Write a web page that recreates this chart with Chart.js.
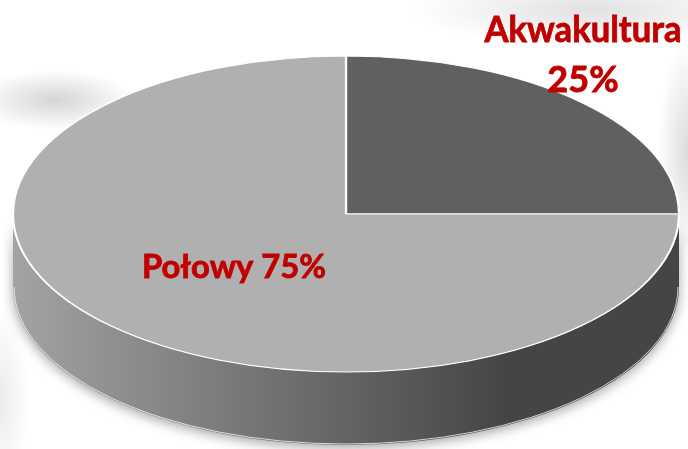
<!DOCTYPE html>
<html lang="pl">
<head>
<meta charset="utf-8">
<script src="https://cdn.jsdelivr.net/npm/chart.js@4.4.1/dist/chart.umd.min.js"></script>
<style>
    html, body { margin: 0; padding: 0; }
    body {
        width: 688px;
        height: 449px;
        overflow: hidden;
        background:
            radial-gradient(ellipse 80px 30px at 55px 100px, rgba(185,185,185,0.6), rgba(255,255,255,0)),
            radial-gradient(ellipse 180px 35px at 590px 10px, rgba(200,200,200,0.55), rgba(255,255,255,0)),
            radial-gradient(ellipse 30px 110px at 688px 150px, rgba(190,190,190,0.55), rgba(255,255,255,0)),
            radial-gradient(ellipse 30px 90px at 0px 400px, rgba(215,215,215,0.5), rgba(255,255,255,0)),
            #fff;
    }
    #wrap { position: relative; width: 688px; height: 449px; }
</style>
</head>
<body>
<div id="wrap"><canvas id="pieChart" width="688" height="449"></canvas></div>
<script>
const categories = ['Akwakultura', 'Połowy'];
const shares = [25, 75];
const splitLabel = [true, false];

const topColors = ['#606060', '#B0B0B0'];
const wallColors = [['#4a4a4a', '#2e2e2e'], ['#a3a3a3', '#454545']];

// where the flat pie gets stretched to, and how thick the "3D" wall is
const PIE = { cx: 346, cy: 214, rx: 333, ry: 158, depth: 73 };
const labelSpots = [
    { x: 583, y: 42, size: 36, lh: 50, maxW: 197 },
    { x: 234, y: 278, size: 33, lh: 0, maxW: 184 }
];

const TAU = Math.PI * 2;

const pie3d = {
    id: 'pie3d',
    beforeDatasetsDraw(chart) {
        const ctx = chart.ctx;
        const arcs = chart.getDatasetMeta(0).data;

        // front wall: only the part of each slice between 0 and PI faces us
        arcs.forEach((arc, i) => {
            let a0 = arc.startAngle, a1 = arc.endAngle;
            while (a0 < 0) { a0 += TAU; a1 += TAU; }
            [0, TAU].forEach(off => {
                const s = Math.max(a0, off), e = Math.min(a1, off + Math.PI);
                if (e <= s) return;
                const grad = ctx.createLinearGradient(PIE.cx - PIE.rx, 0, PIE.cx + PIE.rx, 0);
                grad.addColorStop(0, wallColors[i][0]);
                grad.addColorStop(0.74, wallColors[i][1]);
                grad.addColorStop(1, wallColors[i][1]);

                ctx.save();
                ctx.beginPath();
                ctx.ellipse(PIE.cx, PIE.cy + PIE.depth, PIE.rx, PIE.ry, 0, s, e);
                ctx.ellipse(PIE.cx, PIE.cy, PIE.rx, PIE.ry, 0, e, s, true);
                ctx.closePath();
                ctx.shadowColor = 'rgba(0,0,0,0.35)';
                ctx.shadowBlur = 12;
                ctx.shadowOffsetY = 3;
                ctx.fillStyle = grad;
                ctx.fill();
                ctx.restore();

                ctx.save();
                ctx.beginPath();
                ctx.ellipse(PIE.cx, PIE.cy + PIE.depth, PIE.rx - 1, PIE.ry - 1, 0, s, e);
                ctx.strokeStyle = 'rgba(255,255,255,0.75)';
                ctx.lineWidth = 1;
                ctx.stroke();
                ctx.restore();
            });
        });

        // squash the round pie into the top face ellipse
        const k = 1 / arcs[0].outerRadius;
        ctx.save();
        ctx.translate(PIE.cx, PIE.cy);
        ctx.scale(PIE.rx * k, PIE.ry * k);
        ctx.translate(-arcs[0].x, -arcs[0].y);
    },
    afterDatasetsDraw(chart) {
        chart.ctx.restore();
    },
    afterDraw(chart) {
        const ctx = chart.ctx;
        ctx.save();
        ctx.fillStyle = '#C00000';
        ctx.strokeStyle = '#C00000';
        ctx.lineWidth = 0.8;
        ctx.textAlign = 'center';
        ctx.textBaseline = 'alphabetic';
        categories.forEach((name, i) => {
            const spot = labelSpots[i];
            const pct = shares[i] + '%';
            const lines = splitLabel[i] ? [name, pct] : [name + ' ' + pct];
            ctx.font = `bold ${spot.size}px Lato`;
            lines.forEach((t, j) => {
                const w = Math.min(ctx.measureText(t).width, spot.maxW);
                ctx.fillText(t, spot.x, spot.y + j * spot.lh, w);
                ctx.strokeText(t, spot.x, spot.y + j * spot.lh, w);
            });
        });
        ctx.restore();
    }
};

const ctxPie = document.getElementById('pieChart').getContext('2d');
new Chart(ctxPie, {
    type: 'pie',
    data: {
        labels: categories,
        datasets: [{
            data: shares,
            backgroundColor: topColors,
            borderColor: '#ffffff',
            borderWidth: 1.5,
            hoverOffset: 0,
            clip: false
        }]
    },
    options: {
        responsive: false,
        animation: false,
        layout: { padding: 0 },
        plugins: {
            legend: { display: false },
            tooltip: { enabled: false }
        }
    },
    plugins: [pie3d]
});
</script>
</body>
</html>
